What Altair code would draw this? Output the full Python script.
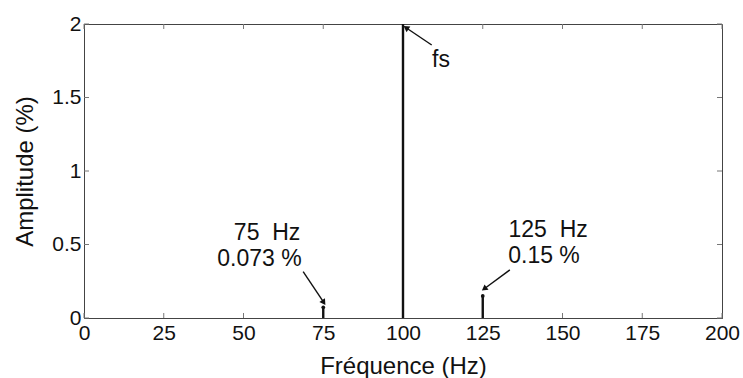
import math
import altair as alt
import pandas as pd

# ---- data ----
freqs = [75, 100, 125]
amps = [0.073, 2.0, 0.15]

x_ticks = [0, 25, 50, 75, 100, 125, 150, 175, 200]
y_ticks = [0, 0.5, 1, 1.5, 2]

ann_text = ["fs", "75\u00a0\u00a0Hz", "0.073 %", "125\u00a0\u00a0Hz", "0.15 %"]
ann_x = [111.9, 57.4, 55.0, 145.5, 144.2]
ann_y = [1.709, 0.531, 0.356, 0.553, 0.372]

arrow_x0 = [109.0, 68.7, 133.5]
arrow_y0 = [1.857, 0.315, 0.327]
arrow_x1 = [101.2, 75.0, 125.7]
arrow_y1 = [1.971, 0.111, 0.202]

W, H = 638, 294
FONT = "Liberation Sans, Arial, Helvetica, sans-serif"
INK = "#111111"
AX = "#444444"

xs = alt.Scale(domain=[0, 200], nice=False, zero=False)
ys = alt.Scale(domain=[0, 2], nice=False, zero=False)

spikes = pd.DataFrame({"f": freqs, "a": amps})
small = spikes[spikes["a"] < 1]

sx, sy = W / 200.0, H / 2.0
angles = []
for x0, y0, x1, y1 in zip(arrow_x0, arrow_y0, arrow_x1, arrow_y1):
    dx = (x1 - x0) * sx
    dy = -(y1 - y0) * sy
    ang = math.degrees(math.atan2(dx, -dy)) % 360
    angles.append(ang)
arrows = pd.DataFrame({"x0": arrow_x0, "y0": arrow_y0, "x1": arrow_x1,
                       "y1": arrow_y1, "ang": angles})
ann = pd.DataFrame({"t": ann_text, "x": ann_x, "y": ann_y})
xt = pd.DataFrame({"v": x_ticks})
yt = pd.DataFrame({"v": y_ticks})

base_x = alt.X("f:Q", scale=xs, axis=alt.Axis(
    values=x_ticks, title="Fréquence (Hz)", grid=False, ticks=False,
    labelFontSize=21, labelPadding=4, labelColor=INK, labelFont=FONT,
    titleFontSize=24, titleFont=FONT, titleColor=INK, titleFontWeight="normal",
    titleY=55, titleBaseline="alphabetic",
    domainColor=AX, labelFlush=False))
base_y = alt.Y("a:Q", scale=ys, axis=alt.Axis(
    values=y_ticks, title="Amplitude (%)", grid=False, ticks=False,
    format="~g", labelFontSize=21, labelPadding=3, labelColor=INK, labelFont=FONT,
    titleFontSize=24, titleFont=FONT, titleColor=INK, titleFontWeight="normal",
    titleX=-52, titleY=H / 2, titleAngle=-90, titleBaseline="alphabetic",
    titleAlign="center", domainColor=AX, labelFlush=False))

spike_layer = alt.Chart(spikes).mark_rule(color=INK, strokeWidth=2.4).encode(
    x=base_x, y=base_y, y2=alt.datum(0))

dots = alt.Chart(small).mark_point(filled=True, color=INK, size=14, opacity=1).encode(
    x=alt.X("f:Q", scale=xs), y=alt.Y("a:Q", scale=ys))

# inward ticks
tick_col = "#777777"
tb = alt.Chart(xt).mark_rule(color=tick_col, strokeWidth=1).encode(
    x=alt.X("v:Q", scale=xs), y=alt.value(H), y2=alt.value(H - 5))
tt = alt.Chart(xt).mark_rule(color=tick_col, strokeWidth=1).encode(
    x=alt.X("v:Q", scale=xs), y=alt.value(0), y2=alt.value(5))
tl = alt.Chart(yt).mark_rule(color=tick_col, strokeWidth=1).encode(
    y=alt.Y("v:Q", scale=ys), x=alt.value(0), x2=alt.value(5))
tr = alt.Chart(yt).mark_rule(color=tick_col, strokeWidth=1).encode(
    y=alt.Y("v:Q", scale=ys), x=alt.value(W), x2=alt.value(W - 5))

arrow_lines = alt.Chart(arrows).mark_rule(color=INK, strokeWidth=1.4).encode(
    x=alt.X("x0:Q", scale=xs), y=alt.Y("y0:Q", scale=ys),
    x2="x1:Q", y2="y1:Q")
arrow_heads = alt.Chart(arrows).mark_point(
    shape="triangle", filled=True, color=INK, size=45, opacity=1).encode(
    x=alt.X("x1:Q", scale=xs), y=alt.Y("y1:Q", scale=ys),
    angle=alt.Angle("ang:Q", scale=None))

texts = alt.Chart(ann).mark_text(
    font=FONT, fontSize=23, color=INK, align="center", baseline="alphabetic").encode(
    x=alt.X("x:Q", scale=xs), y=alt.Y("y:Q", scale=ys), text="t:N")

chart = alt.layer(
    tb, tt, tl, tr, spike_layer, dots, arrow_lines, arrow_heads, texts
).properties(
    width=W, height=H,
    autosize=alt.AutoSizeParams(type="none"),
    padding={"left": 84, "top": 24, "right": 21, "bottom": 60},
    background="white",
).configure_view(stroke=AX, strokeWidth=1)

chart.save("out.html", embed_options={"renderer": "svg", "actions": False})
